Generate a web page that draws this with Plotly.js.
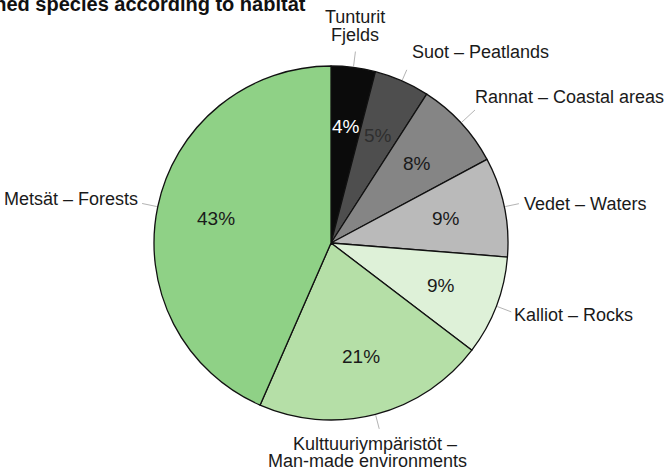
<!DOCTYPE html>
<html><head><meta charset="utf-8">
<script src="https://cdn.plot.ly/plotly-3.0.1.min.js"></script>
<style>html,body{margin:0;padding:0;background:#fff}#chart{width:665px;height:475px}</style>
</head><body><div id="chart"></div>
<script>
// ---- data ----
const titleText = 'Threatened species according to habitat';
const habitats = ['Tunturit – Fjelds', 'Suot – Peatlands', 'Rannat – Coastal areas', 'Vedet – Waters',
                  'Kalliot – Rocks', 'Kulttuuriympäristöt – Man-made environments', 'Metsät – Forests'];
const labelLines = [
  ['Tunturit', 'Fjelds'],
  ['Suot – Peatlands'],
  ['Rannat – Coastal areas'],
  ['Vedet – Waters'],
  ['Kalliot – Rocks'],
  ['Kulttuuriympäristöt –', 'Man-made environments'],
  ['Metsät – Forests']
];
const sharePct = [4, 5, 8, 9, 9, 21, 43];

// ---- styles ----
const sliceColors = ['#0b0b0b', '#4e4e4e', '#858585', '#bababa', '#def1d8', '#b5dfa7', '#8fd186'];
const pctColors = ['#ffffff', '#2e2e2e', '#1a1a1a', '#1a1a1a', '#1a1a1a', '#1a1a1a', '#1a1a1a'];
const labelStyle = [
  {anchor: 'center', lead: 16, off: [[0, -35], [0, -17]]},
  {anchor: 'left', lead: 12, off: [[3, -18]]},
  {anchor: 'left', lead: 19, off: [[-2, -13]]},
  {anchor: 'left', lead: 15, off: [[3, 0]]},
  {anchor: 'left', lead: 16, off: [[1, 3]]},
  {anchor: 'center', lead: 15, off: [[-4, 15], [-12, 32]]},
  {anchor: 'right', lead: 16, off: [[-2, -4]]}
];
const W = 665, H = 475, CX = 331, CY = 243, R = 177;
const FONT = 'Liberation Sans, Arial, Helvetica, sans-serif';

const px = x => x / W;
const py = y => 1 - y / H;

const total = sharePct.reduce((a, b) => a + b, 0);
let cum = 0;
const annotations = [];
const shapes = [];
sharePct.forEach((v, i) => {
  const th = (cum + v / 2) / total * 2 * Math.PI;
  cum += v;
  const s = Math.sin(th), c = Math.cos(th);
  // percentage inside
  const rp = 0.665 * R;
  annotations.push({
    x: px(CX + rp * s), y: py(CY - rp * c), xref: 'paper', yref: 'paper',
    text: v + '%', showarrow: false, xanchor: 'center', yanchor: 'middle',
    font: {family: FONT, size: 19, color: pctColors[i]}
  });
  // leader line
  const st = labelStyle[i];
  const ex = CX + (R + 1) * s, ey = CY - (R + 1) * c;
  const lx = CX + (R + st.lead) * s, ly = CY - (R + st.lead) * c;
  shapes.push({type: 'line', xref: 'paper', yref: 'paper',
    x0: px(ex), y0: py(ey), x1: px(lx), y1: py(ly),
    line: {color: '#a0a0a0', width: 0.8}});
  labelLines[i].forEach((t, k) => {
    annotations.push({
      x: px(lx + st.off[k][0]), y: py(ly + st.off[k][1]), xref: 'paper', yref: 'paper',
      text: t, showarrow: false, xanchor: st.anchor, yanchor: 'middle',
      font: {family: FONT, size: 18, color: '#1a1a1a'}
    });
  });
});

annotations.push({
  x: px(308), y: py(17), xref: 'paper', yref: 'paper', xanchor: 'right', yanchor: 'bottom',
  text: '<b>' + titleText + '</b>', showarrow: false,
  font: {family: FONT, size: 20, color: '#111111'}
});

const trace = {
  type: 'pie',
  labels: habitats,
  values: sharePct,
  sort: false,
  direction: 'clockwise',
  rotation: 0,
  textinfo: 'none',
  hoverinfo: 'label+value',
  marker: {colors: sliceColors, line: {color: '#111111', width: 1.3}},
  domain: {x: [(CX - R) / W, (CX + R) / W], y: [(H - CY - R) / H, (H - CY + R) / H]},
  showlegend: false
};

const layout = {
  width: W, height: H,
  margin: {l: 0, r: 0, t: 0, b: 0},
  paper_bgcolor: '#ffffff',
  showlegend: false,
  annotations: annotations,
  shapes: shapes
};

Plotly.newPlot('chart', [trace], layout, {staticPlot: true});
</script>
</body></html>
